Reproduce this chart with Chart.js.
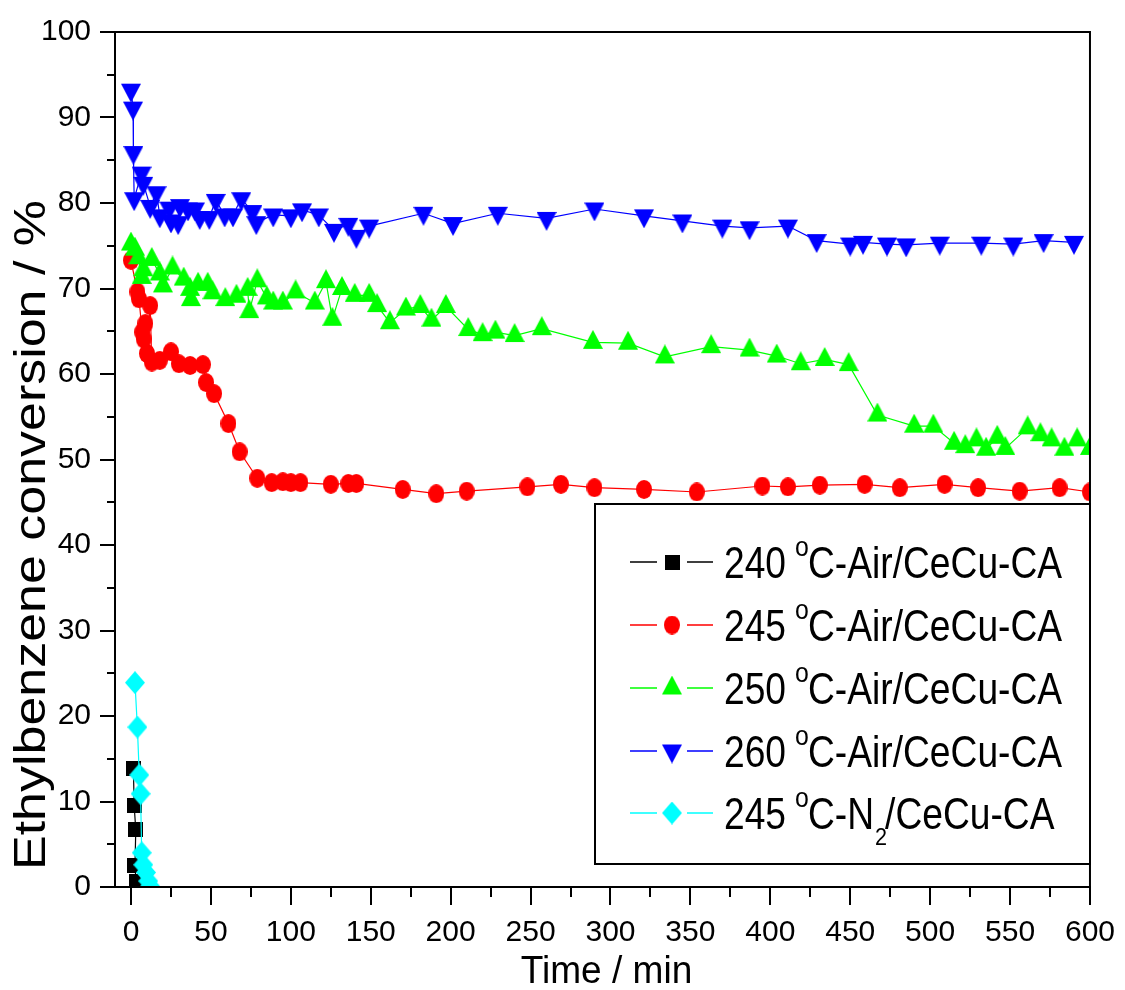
<!DOCTYPE html>
<html><head><meta charset="utf-8">
<script src="https://cdn.jsdelivr.net/npm/chart.js@4.4.0/dist/chart.umd.min.js"></script>
<style>html,body{margin:0;padding:0;background:#fff;}</style>
</head><body>
<canvas id="c" width="1125" height="990" style="width:1125px;height:990px;display:block"></canvas>
<script>
// ---- tick values ----
const xTicks = [0,50,100,150,200,250,300,350,400,450,500,550,600];
const xMinorTicks = [25,75,125,175,225,275,325,375,425,475,525,575];
const yTicks = [0,10,20,30,40,50,60,70,80,90,100];
const yMinorTicks = [5,15,25,35,45,55,65,75,85,95];

// ---- labels ----
const xTitle = 'Time / min';
const yTitle = 'Ethylbenzene conversion / %';
const seriesTemps = ['240', '245', '250', '260', '245'];
const seriesTails = ['C-Air/CeCu-CA', 'C-Air/CeCu-CA', 'C-Air/CeCu-CA', 'C-Air/CeCu-CA', 'C-N'];
const seriesSubs = ['', '', '', '', '2'];
const seriesAfterSub = ['', '', '', '', '/CeCu-CA'];

// ---- series: 240 °C-Air ----
const t240 = [1.5, 2.0, 3.0, 2.5, 3.2];
const v240 = [13.9, 9.5, 6.7, 2.5, 0.6];

// ---- series: 245 °C-Air ----
const t245 = [0, 4, 5, 7, 8, 9, 10, 12, 13, 18, 25, 30, 37, 45, 47, 52, 61, 68, 79, 88, 95, 100, 106, 125, 136, 141, 170, 191, 210, 248, 269, 290, 321, 354, 395, 411, 431, 459, 481, 509, 530, 556, 581, 600];
const v245 = [73.3, 69.6, 68.8, 64.9, 64.1, 65.9, 62.4, 68.0, 61.4, 61.6, 62.6, 61.2, 61.0, 61.1, 59.0, 57.7, 54.2, 50.9, 47.8, 47.3, 47.4, 47.3, 47.3, 47.1, 47.2, 47.2, 46.5, 46.0, 46.3, 46.8, 47.1, 46.7, 46.5, 46.2, 46.9, 46.8, 47.0, 47.1, 46.7, 47.1, 46.7, 46.3, 46.7, 46.2];

// ---- series: 250 °C-Air ----
const t250 = [0, 2.5, 4.6, 6.7, 7.7, 13, 18, 20, 26, 33, 37, 37.5, 42, 48, 51, 59, 66, 73, 74, 79, 85, 89, 95, 103, 115, 122, 126, 132, 140, 149, 154, 162, 172, 181, 188, 197, 211, 220, 228, 240, 257, 289, 311, 334, 363, 387, 404, 419, 434, 449, 467, 490, 502, 515, 522, 529, 535, 542, 547, 561, 569, 576, 584, 592, 600];
const v250 = [75.2, 74.6, 73.6, 71.3, 72.2, 73.4, 71.7, 70.3, 72.4, 71.1, 69.9, 68.7, 70.5, 70.5, 69.5, 68.7, 69.1, 69.9, 67.3, 70.9, 68.9, 68.3, 68.3, 69.6, 68.3, 70.8, 66.4, 70.0, 69.2, 69.2, 68.0, 66.0, 67.6, 67.9, 66.3, 67.9, 65.2, 64.6, 64.9, 64.5, 65.3, 63.7, 63.6, 62.0, 63.2, 62.8, 62.1, 61.2, 61.7, 61.1, 55.2, 53.9, 53.9, 51.9, 51.5, 52.3, 51.2, 52.6, 51.3, 53.7, 52.9, 52.3, 51.2, 52.3, 51.3];

// ---- series: 260 °C-Air ----
const t260 = [0, 1.3, 1.5, 2, 6.6, 7.7, 12, 16, 18, 24, 25, 29.5, 30.6, 35.7, 40, 43, 49, 53, 58.6, 63.8, 69, 76, 78.4, 89, 100, 107, 117.5, 127, 136, 141, 149, 183, 201.5, 229.5, 260, 290, 321, 345, 370, 387, 411, 429, 450, 458, 473, 485, 506, 532, 552, 571, 590];
const v260 = [93.2, 91.1, 85.9, 80.5, 83.5, 82.3, 79.6, 81.2, 78.5, 79.4, 77.9, 77.7, 79.7, 79.3, 79.3, 78.3, 78.3, 80.3, 78.6, 78.6, 80.5, 79.0, 77.7, 78.6, 78.5, 79.2, 78.6, 76.8, 77.5, 76.1, 77.3, 78.8, 77.6, 78.8, 78.2, 79.3, 78.5, 77.9, 77.3, 77.1, 77.3, 75.6, 75.2, 75.4, 75.2, 75.1, 75.3, 75.3, 75.2, 75.6, 75.4];

// ---- series: 245 °C-N2 ----
const tN2 = [2.5, 4, 5.2, 6, 6.7, 7.7, 9.4, 10.8, 12];
const vN2 = [23.9, 18.7, 13.1, 10.9, 4.0, 2.6, 1.7, 0.7, 0.1];

const FONT = "'Liberation Sans', Arial, Helvetica, sans-serif";

function makeMarker(kind, color, w, h) {
  const c = document.createElement('canvas');
  const tri = (kind === 'up' || kind === 'down');
  const H = tri ? Math.round(h * 4 / 3) : h;
  c.width = w; c.height = H;
  const g = c.getContext('2d');
  g.fillStyle = color;
  g.beginPath();
  if (kind === 'square') { g.rect(0, 0, w, h); }
  else if (kind === 'ellipse') { g.ellipse(w / 2, h / 2, w / 2, h / 2, 0, 0, Math.PI * 2); }
  else if (kind === 'up') { g.moveTo(w / 2, 0); g.lineTo(w, h); g.lineTo(0, h); g.closePath(); }
  else if (kind === 'down') { g.moveTo(0, H - h); g.lineTo(w, H - h); g.lineTo(w / 2, H); g.closePath(); }
  else if (kind === 'diamond') { g.moveTo(w / 2, 0); g.lineTo(w, h / 2); g.lineTo(w / 2, h); g.lineTo(0, h / 2); g.closePath(); }
  g.fill();
  return c;
}

const colors = ['#000000', '#ff0000', '#00ff00', '#0000ff', '#00ffff'];
const markers = [
  makeMarker('square', colors[0], 15, 15),
  makeMarker('ellipse', colors[1], 16, 19),
  makeMarker('up', colors[2], 20, 19),
  makeMarker('down', colors[3], 20, 19),
  makeMarker('diamond', colors[4], 20, 23)
];
const tArr = [t240, t245, t250, t260, tN2];
const vArr = [v240, v245, v250, v260, vN2];
const orders = [5, 4, 3, 2, 1];

const datasets = tArr.map((ts, i) => ({
  label: seriesTemps[i] + ' °C-' + seriesTails[i] + seriesSubs[i] + seriesAfterSub[i],
  data: ts.map((t, k) => ({ x: t, y: vArr[i][k] })),
  showLine: true,
  borderColor: colors[i],
  backgroundColor: colors[i],
  borderWidth: 1.2,
  pointStyle: markers[i],
  pointRadius: 10,
  pointHoverRadius: 10,
  order: orders[i]
}));

function scaledText(ctx, text, x, y, font, sx) {
  ctx.save();
  ctx.font = font;
  ctx.translate(x, y);
  ctx.scale(sx, 1);
  ctx.fillText(text, 0, 0);
  const w = ctx.measureText(text).width * sx;
  ctx.restore();
  return w;
}

const decorPlugin = {
  id: 'decor',
  afterDraw(chart) {
    const ctx = chart.ctx;
    const a = chart.chartArea;
    const xs = chart.scales.x, ys = chart.scales.y;
    ctx.save();
    // frame
    ctx.strokeStyle = '#000'; ctx.lineWidth = 2;
    ctx.strokeRect(a.left, a.top, a.right - a.left, a.bottom - a.top);
    // minor ticks
    ctx.beginPath();
    xMinorTicks.forEach(v => { const p = Math.round(xs.getPixelForValue(v)); ctx.moveTo(p, a.bottom); ctx.lineTo(p, a.bottom + 10); });
    yMinorTicks.forEach(v => { const p = Math.round(ys.getPixelForValue(v)); ctx.moveTo(a.left, p); ctx.lineTo(a.left - 8, p); });
    ctx.stroke();

    ctx.fillStyle = '#000';
    // x title
    ctx.save();
    ctx.font = '39px ' + FONT;
    ctx.textAlign = 'center'; ctx.textBaseline = 'alphabetic';
    ctx.translate((a.left + a.right) / 2 + 4, 983);
    ctx.scale(0.95, 1);
    ctx.fillText(xTitle, 0, 0);
    ctx.restore();
    // y title
    ctx.save();
    ctx.font = '44px ' + FONT;
    ctx.textAlign = 'center'; ctx.textBaseline = 'alphabetic';
    const w = ctx.measureText(yTitle).width;
    ctx.translate(45, 535);
    ctx.rotate(-Math.PI / 2);
    ctx.scale(670 / w, 1);
    ctx.fillText(yTitle, 0, 0);
    ctx.restore();

    // legend
    const lx0 = 595, ly0 = 504, lx1 = 1090, ly1 = 864;
    ctx.fillStyle = '#fff';
    ctx.fillRect(lx0, ly0, lx1 - lx0, ly1 - ly0);
    ctx.strokeStyle = '#000'; ctx.lineWidth = 2;
    ctx.strokeRect(lx0, ly0, lx1 - lx0, ly1 - ly0);
    const rowY = [562, 625, 688, 751, 813];
    const sx = 0.845;
    const big = '44px ' + FONT;
    for (let i = 0; i < 5; i++) {
      const y = rowY[i];
      ctx.strokeStyle = colors[i]; ctx.lineWidth = 1.3;
      ctx.beginPath();
      ctx.moveTo(630, y); ctx.lineTo(657, y);
      ctx.moveTo(687, y); ctx.lineTo(713, y);
      ctx.stroke();
      const m = markers[i];
      ctx.drawImage(m, 672 - m.width / 2, y - m.height / 2);
      // text
      ctx.fillStyle = '#000';
      ctx.textAlign = 'left'; ctx.textBaseline = 'alphabetic';
      const base = y + 16;
      const x0 = 724;
      scaledText(ctx, seriesTemps[i], x0, base, big, sx);
      scaledText(ctx, 'o', x0 + 71, base - 22, '27px ' + FONT, 0.92);
      const wt = scaledText(ctx, seriesTails[i], x0 + 84, base, big, sx);
      if (seriesSubs[i]) {
        const pEnd = x0 + 84 + wt;
        scaledText(ctx, seriesSubs[i], pEnd + 1, base + 16, '24px ' + FONT, 0.9);
        scaledText(ctx, seriesAfterSub[i], pEnd + 11, base, big, sx);
      }
    }
    ctx.restore();
  }
};

Chart.defaults.font.family = FONT;
Chart.defaults.color = '#000';

new Chart(document.getElementById('c'), {
  type: 'scatter',
  data: { datasets },
  options: {
    responsive: false,
    animation: false,
    layout: { padding: { left: 0, top: 32, right: 32, bottom: 0 } },
    plugins: { legend: { display: false }, tooltip: { enabled: false } },
    scales: {
      x: {
        type: 'linear', min: -10, max: 600,
        afterBuildTicks: s => { s.ticks = xTicks.map(v => ({ value: v })); },
        afterFit: s => { s.height = 103; },
        ticks: { font: { size: 30 }, color: '#000', padding: 10, maxRotation: 0, autoSkip: false },
        grid: { drawOnChartArea: false, drawTicks: true, tickLength: 18, tickWidth: 2, lineWidth: 2, color: '#000', tickColor: '#000' },
        border: { display: true, color: '#000', width: 2 }
      },
      y: {
        type: 'linear', min: 0, max: 100,
        afterBuildTicks: s => { s.ticks = yTicks.map(v => ({ value: v })); },
        afterFit: s => { s.width = 115; },
        ticks: { font: { size: 30 }, color: '#000', padding: 9, autoSkip: false },
        grid: { drawOnChartArea: false, drawTicks: true, tickLength: 15, tickWidth: 2, lineWidth: 2, color: '#000', tickColor: '#000' },
        border: { display: true, color: '#000', width: 2 }
      }
    }
  },
  plugins: [decorPlugin]
});
</script>
</body></html>
